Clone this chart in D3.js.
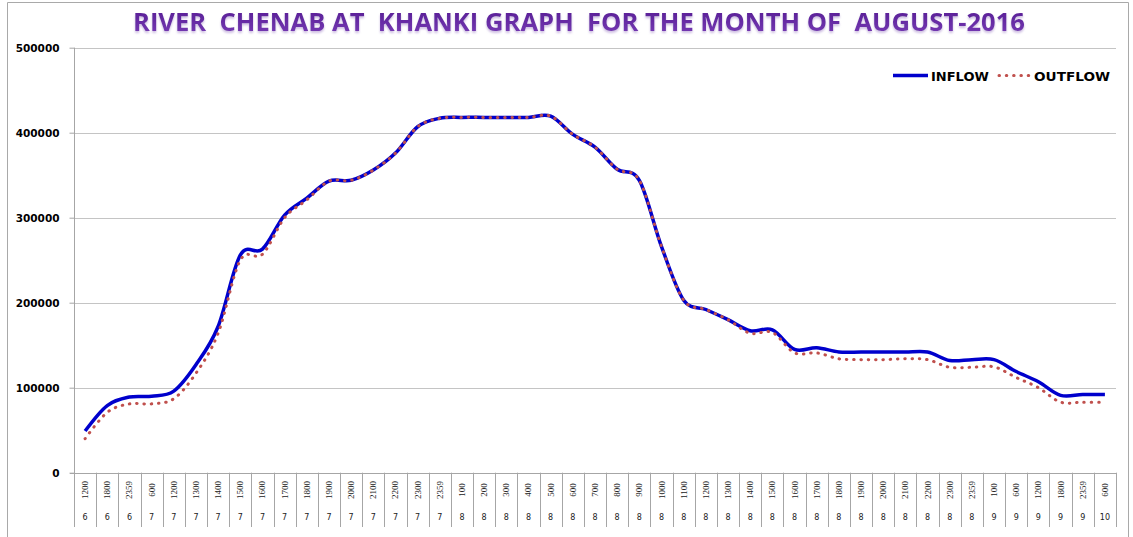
<!DOCTYPE html>
<html>
<head>
<meta charset="utf-8">
<script src="https://cdn.jsdelivr.net/npm/d3@7"></script>
<style>
  html, body { margin: 0; padding: 0; background: #fff; }
  svg { display: block; }
</style>
</head>
<body>
<svg id="chart" width="1133" height="537"></svg>
<script>
// River Chenab at Khanki, August 2016 — inflow / outflow (cusecs)
const timeLabels = ["1200","1800","2359",
  "600","1200","1300","1400","1500","1600","1700","1800","1900","2000","2100","2200","2300","2359",
  "100","200","300","400","500","600","700","800","900","1000","1100","1200","1300","1400","1500","1600","1700","1800","1900","2000","2100","2200","2300","2359",
  "100","600","1200","1800","2359",
  "600"];
const dayLabels = ["6","6","6",
  "7","7","7","7","7","7","7","7","7","7","7","7","7","7",
  "8","8","8","8","8","8","8","8","8","8","8","8","8","8","8","8","8","8","8","8","8","8","8","8",
  "9","9","9","9","9",
  "10"];
const inflow = [49000, 79000, 89000,
  90000, 96000, 127000, 172000, 256000, 263000, 303000, 323000, 343000, 344000, 356000, 376000, 407000, 417000,
  418000, 418000, 418000, 418000, 419500, 398000, 383000, 357000, 344000, 266000, 203000, 192000, 180000, 167000, 168000, 145000, 147000, 142000, 142000, 142000, 142000, 142000, 132000, 133000,
  133000, 119000, 107000, 91000, 92000,
  92000];
const outflow = [40000, 71000, 81000,
  81000, 87000, 117000, 164000, 250000, 257000, 300000, 321000, 343000, 344000, 356000, 376000, 407000, 417000,
  418000, 418000, 418000, 418000, 419500, 398000, 383000, 357000, 344000, 266000, 203000, 192000, 180000, 164000, 165000, 141000, 141000, 134000, 133000, 133000, 134000, 133000, 124000, 124000,
  124500, 112000, 100000, 83000, 83000,
  83000];
const yTicks = [0, 100000, 200000, 300000, 400000, 500000];

const svg = d3.select("#chart");
const W = 1133, H = 537;
const plot = { left: 74, right: 1116, top: 47.7, bottom: 472.7 };

// chart frame
svg.append("path")
  .attr("d", `M7.5,${H + 2} V2.5 H1128.5 V${H + 2}`)
  .attr("fill", "none").attr("stroke", "#a9a9a9").attr("stroke-width", 1);

// title with purple gradient
const defs = svg.append("defs");
const grad = defs.append("linearGradient").attr("id", "titleGrad")
  .attr("x1", 0).attr("y1", 0).attr("x2", 0).attr("y2", 1);
grad.append("stop").attr("offset", "0%").attr("stop-color", "#52198f");
grad.append("stop").attr("offset", "100%").attr("stop-color", "#7a3db8");
defs.append("filter").attr("id", "titleShadow")
  .append("feDropShadow").attr("dx", 0).attr("dy", 2).attr("stdDeviation", 1.2)
  .attr("flood-color", "#b9a3d6").attr("flood-opacity", 0.7);

svg.append("text")
  .attr("x", 133).attr("y", 31)
  .attr("textLength", 892).attr("lengthAdjust", "spacingAndGlyphs")
  .attr("font-family", "'Open Sans', sans-serif").attr("font-weight", "bold")
  .attr("font-size", 25)
  .attr("fill", "url(#titleGrad)")
  .attr("filter", "url(#titleShadow)")
  .style("white-space", "pre")
  .text("RIVER  CHENAB AT  KHANKI GRAPH  FOR THE MONTH OF  AUGUST-2016");

// scales
const x = d3.scaleBand().domain(d3.range(timeLabels.length))
  .range([plot.left, plot.right]).paddingInner(0).paddingOuter(0);
const y = d3.scaleLinear().domain([0, 500000]).range([plot.bottom, plot.top]);
const cx = i => x(i) + x.bandwidth() / 2;

// horizontal gridlines
svg.append("g").selectAll("line").data(yTicks.filter(d => d > 0)).join("line")
  .attr("x1", plot.left).attr("x2", plot.right)
  .attr("y1", d => Math.round(y(d)) + 0.5).attr("y2", d => Math.round(y(d)) + 0.5)
  .attr("stroke", "#c4c4c4").attr("stroke-width", 1);

// y axis
const yAxis = svg.append("g").attr("transform", `translate(${plot.left + 0.5},0)`)
  .call(d3.axisLeft(y).tickValues(yTicks).tickSize(5).tickPadding(10).tickFormat(d3.format("d")));
yAxis.select(".domain").attr("stroke", "#a6a6a6").attr("d", `M0,${plot.top} V527`);
yAxis.selectAll(".tick line").attr("stroke", "#a6a6a6");
yAxis.selectAll(".tick text")
  .attr("font-family", "'DejaVu Sans', sans-serif").attr("font-weight", "bold")
  .attr("font-size", 10.5).attr("fill", "#000");

// x axis: baseline, category separators and two label rows
const xg = svg.append("g");
xg.append("line")
  .attr("x1", plot.left - 4).attr("x2", plot.right)
  .attr("y1", Math.round(plot.bottom) + 0.5).attr("y2", Math.round(plot.bottom) + 0.5)
  .attr("stroke", "#a6a6a6");
xg.selectAll("line.sep").data(d3.range(1, timeLabels.length + 1)).join("line")
  .attr("class", "sep")
  .attr("x1", i => Math.round(x(i - 1) + x.bandwidth()) + 0.5)
  .attr("x2", i => Math.round(x(i - 1) + x.bandwidth()) + 0.5)
  .attr("y1", plot.bottom).attr("y2", 527)
  .attr("stroke", "#a6a6a6");
xg.selectAll("text.time").data(timeLabels).join("text")
  .attr("class", "time")
  .attr("transform", (d, i) => `translate(${cx(i) + 3},490) rotate(-90)`)
  .attr("text-anchor", "middle")
  .attr("font-family", "'Liberation Serif', serif").attr("font-size", 9)
  .attr("fill", "#222")
  .text(d => d);
xg.selectAll("text.day").data(dayLabels).join("text")
  .attr("class", "day")
  .attr("x", (d, i) => cx(i)).attr("y", 520)
  .attr("text-anchor", "middle")
  .attr("font-family", "'DejaVu Sans', sans-serif").attr("font-size", 8)
  .attr("fill", "#222")
  .text(d => d);

// series lines
const line = d3.line()
  .x((d, i) => cx(i)).y(d => y(d))
  .curve(d3.curveCardinal.tension(0));

svg.append("path").datum(inflow)
  .attr("d", line).attr("fill", "none")
  .attr("stroke", "#0000cc").attr("stroke-width", 3.5)
  .attr("stroke-linejoin", "round");
svg.append("path").datum(outflow)
  .attr("d", line).attr("fill", "none")
  .attr("stroke", "#c0504d").attr("stroke-width", 3)
  .attr("stroke-dasharray", "0.5 6.8").attr("stroke-linecap", "round");

// legend
const lg = svg.append("g");
lg.append("line").attr("x1", 893).attr("x2", 928).attr("y1", 75.5).attr("y2", 75.5)
  .attr("stroke", "#0000cc").attr("stroke-width", 3.5);
lg.append("text").attr("x", 931).attr("y", 80.5)
  .attr("font-family", "'DejaVu Sans', sans-serif").attr("font-weight", "bold")
  .attr("font-size", 13).attr("fill", "#000").text("INFLOW");
lg.append("line").attr("x1", 999).attr("x2", 1030).attr("y1", 75.5).attr("y2", 75.5)
  .attr("stroke", "#c0504d").attr("stroke-width", 3)
  .attr("stroke-dasharray", "0.5 6.8").attr("stroke-linecap", "round");
lg.append("text").attr("x", 1034).attr("y", 80.5)
  .attr("textLength", 76).attr("lengthAdjust", "spacingAndGlyphs")
  .attr("font-family", "'DejaVu Sans', sans-serif").attr("font-weight", "bold")
  .attr("font-size", 13).attr("fill", "#000").text("OUTFLOW");
</script>
</body>
</html>
